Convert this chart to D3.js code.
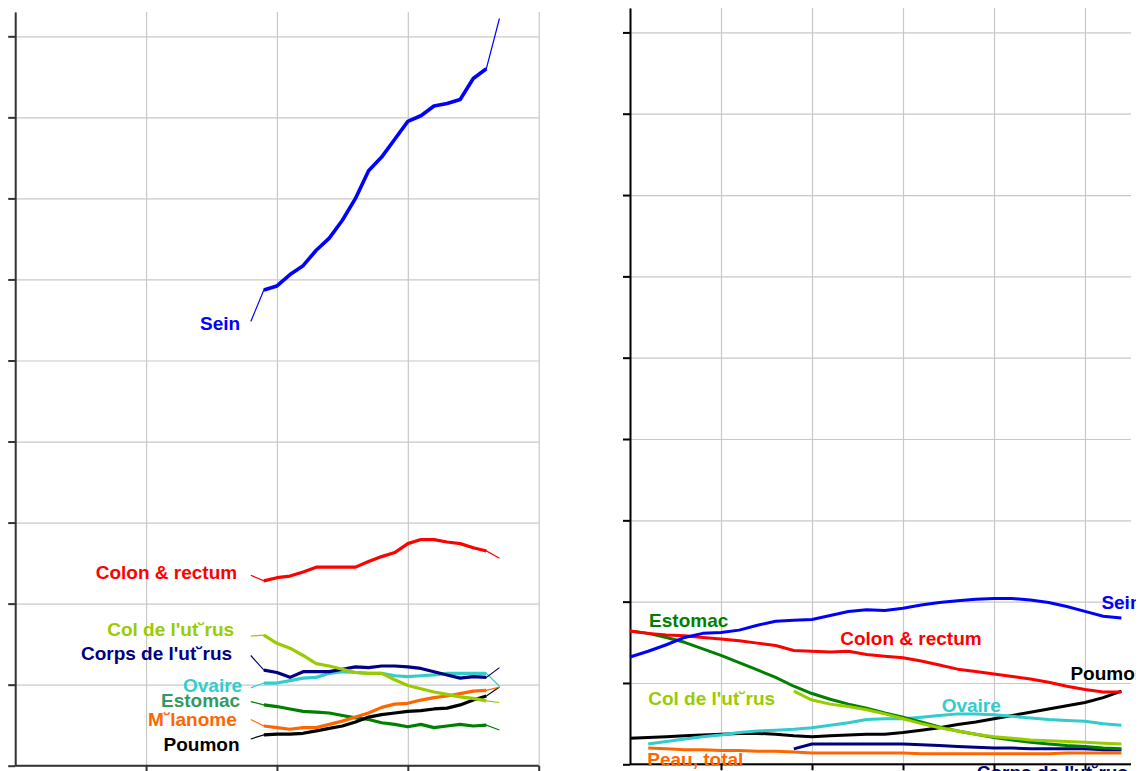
<!DOCTYPE html>
<html><head><meta charset="utf-8">
<script src="https://cdn.jsdelivr.net/npm/d3@7"></script>
<style>html,body{margin:0;padding:0;background:#fff;overflow:hidden}</style>
</head><body>
<script>
// ---------- DATA ----------
// Left panel: incidence, yearly 1978-1997
const leftYears = [1978,1979,1980,1981,1982,1983,1984,1985,1986,1987,1988,1989,1990,1991,1992,1993,1994,1995,1996,1997];
const leftSein     = [54.8,58.7,59.2,60.6,61.7,63.6,65.1,67.3,70.0,73.4,75.1,77.3,79.5,80.2,81.4,81.7,82.2,84.8,86.0,92.2];
const leftColon    = [23.5,22.8,23.2,23.4,23.9,24.5,24.5,24.5,24.5,25.2,25.8,26.3,27.4,27.9,27.9,27.6,27.4,26.9,26.5,25.6];
const leftCol      = [16.0,16.1,15.1,14.5,13.6,12.6,12.3,11.9,11.5,11.4,11.4,10.6,9.9,9.5,9.1,8.8,8.5,8.3,8.0,7.8];
const leftCorps    = [13.6,11.8,11.5,10.9,11.6,11.6,11.6,11.9,12.2,12.1,12.3,12.3,12.2,12.0,11.6,11.2,10.8,11.0,10.9,12.1];
const leftOvaire   = [9.6,10.2,10.2,10.5,10.8,10.9,11.4,11.6,11.5,11.4,11.4,11.1,11.0,11.1,11.2,11.4,11.4,11.4,11.4,9.8];
const leftEstomac  = [7.9,7.5,7.3,7.0,6.7,6.6,6.5,6.2,5.9,5.7,5.3,5.1,4.8,5.1,4.7,4.9,5.1,4.9,5.0,4.4];
const leftMelanome = [5.7,4.9,4.7,4.5,4.7,4.7,5.1,5.5,6.0,6.5,7.2,7.6,7.7,8.1,8.4,8.6,8.9,9.2,9.3,9.7];
const leftPoumon   = [3.3,3.8,3.9,3.9,4.0,4.3,4.6,4.9,5.4,6.0,6.3,6.5,6.7,6.8,7.0,7.1,7.5,8.1,8.6,9.7];

// Right panel: mortality, 1950-2004
const rightYears = [1950,1952,1954,1956,1958,1960,1962,1964,1966,1968,1970,1972,1974,1976,1978,1980,1982,1984,1986,1988,1990,1992,1994,1996,1998,2000,2002,2004];
const rightSein    = [13.2,13.9,14.7,15.6,16.1,16.2,16.5,17.1,17.6,17.7,17.8,18.3,18.8,19.0,18.9,19.2,19.6,19.9,20.1,20.3,20.4,20.4,20.2,19.9,19.4,18.8,18.2,18.0];
const rightColon   = [16.4,16.1,15.9,15.8,15.6,15.4,15.2,14.9,14.6,14.0,13.9,13.8,13.9,13.5,13.3,13.1,12.7,12.2,11.7,11.4,11.1,10.8,10.5,10.1,9.6,9.2,8.9,8.9];
const rightEstomac = [16.4,16.1,15.6,15.0,14.2,13.4,12.5,11.6,10.7,9.6,8.7,8.0,7.4,6.9,6.3,5.8,5.2,4.6,4.1,3.7,3.3,3.0,2.7,2.5,2.3,2.2,2.0,1.9];
const rightCol     = [null,null,null,null,null,null,null,null,null,9.0,7.9,7.4,7.1,6.7,6.2,5.6,5.0,4.5,4.1,3.7,3.4,3.2,3.0,2.9,2.8,2.7,2.6,2.5];
const rightOvaire  = [null,2.5,2.8,3.1,3.4,3.6,3.9,4.1,4.2,4.3,4.5,4.8,5.1,5.5,5.6,5.6,5.8,6.0,6.2,6.2,6.1,5.9,5.7,5.5,5.4,5.3,5.0,4.8];
const rightPoumon  = [3.2,3.3,3.4,3.5,3.6,3.7,3.8,3.8,3.7,3.5,3.4,3.5,3.6,3.7,3.7,3.9,4.2,4.5,4.9,5.2,5.6,6.0,6.4,6.8,7.2,7.6,8.2,9.0];
const rightCorps   = [null,null,null,null,null,null,null,null,null,1.9,2.5,2.5,2.5,2.5,2.5,2.5,2.4,2.3,2.2,2.1,2.0,2.0,1.9,1.9,1.9,1.9,1.8,1.8];
const rightPeau    = [null,2.0,1.9,1.8,1.8,1.7,1.7,1.6,1.6,1.5,1.4,1.4,1.4,1.4,1.4,1.4,1.3,1.3,1.3,1.3,1.3,1.3,1.3,1.3,1.4,1.4,1.4,1.4];

const yTicks = [0,10,20,30,40,50,60,70,80,90];
const leftXTicks = [1960,1970,1980,1990,2000];
const rightXTicks = [1950,1960,1970,1980,1990,2000,2010];

// label names and anchors (data units: year, value)
const leftLabels = [
  {name:"Sein", s:"sein", at:[1977.19,53.8]},
  {name:"Colon & rectum", s:"colon", at:[1976.96,23.05]},
  {name:"Col de l'ut\u02D8rus", s:"col", at:[1976.73,16.0]},
  {name:"Corps de l'ut\u02D8rus", s:"corps", at:[1976.58,13.05]},
  {name:"Ovaire", s:"ovaire", at:[1977.34,9.1]},
  {name:"Estomac", s:"estomacL", at:[1977.19,7.3]},
  {name:"M\u02D8lanome", s:"melanome", at:[1976.93,4.96]},
  {name:"Poumon", s:"poumon", at:[1977.14,1.8]}
];
const rightLabels = [
  {name:"Estomac", s:"estomac", at:[1952.1,16.9]},
  {name:"Colon & rectum", s:"colon", at:[1973.1,14.7]},
  {name:"Col de l'ut\u02D8rus", s:"col", at:[1952.0,7.3]},
  {name:"Peau, total", s:"melanome", at:[1951.9,-0.2]},
  {name:"Ovaire", s:"ovaire", at:[1984.25,6.44]},
  {name:"Poumon", s:"poumon", at:[1998.4,10.4]},
  {name:"Sein", s:"sein", at:[2001.8,19.1]},
  {name:"Corps de l'ut\u02D8rus", s:"corps", at:[1988.1,-1.8]}
];

// ---------- STYLE ----------
const colors = {sein:"#0000ff", colon:"#ff0000", col:"#99cc00", corps:"#000080", ovaire:"#33cccc",
  estomac:"#008000", estomacL:"#339966", melanome:"#ff6600", poumon:"#000000"};

const leftSeries = [
  {s:"estomac", v:leftEstomac},{s:"poumon", v:leftPoumon},{s:"melanome", v:leftMelanome},
  {s:"ovaire", v:leftOvaire},{s:"corps", v:leftCorps},{s:"col", v:leftCol},
  {s:"colon", v:leftColon},{s:"sein", v:leftSein}
];
const rightSeries = [
  {s:"melanome", v:rightPeau},{s:"corps", v:rightCorps},{s:"poumon", v:rightPoumon},
  {s:"ovaire", v:rightOvaire},{s:"estomac", v:rightEstomac},{s:"col", v:rightCol},
  {s:"colon", v:rightColon},{s:"sein", v:rightSein}
];

const svg = d3.select("body").append("svg").attr("width",1136).attr("height",771)
  .style("display","block");

function panel(cfg){
  const g = svg.append("g");
  const x = d3.scaleLinear().domain(cfg.xDomain).range(cfg.xRange);
  const y = d3.scaleLinear().domain([0,93]).range(cfg.yRange);
  const x0 = cfg.xRange[0], x1 = cfg.gridRight, y0 = cfg.yRange[0];
  // grid
  const gy = g.append("g").attr("transform",`translate(${x0},0)`)
    .call(d3.axisLeft(y).tickValues(yTicks).tickSize(-(x1-x0)).tickFormat(""));
  gy.select(".domain").remove();
  gy.selectAll("line").attr("stroke","#c8c8c8").attr("stroke-width",1.2);
  const gx = g.append("g").attr("transform",`translate(0,${y0})`)
    .call(d3.axisBottom(x).tickValues(cfg.xTicks.filter(t=>x(t)<=x1+1)).tickSize(-(y0-y(93))).tickFormat(""));
  gx.select(".domain").remove();
  gx.selectAll("line").attr("stroke","#c8c8c8").attr("stroke-width",1.2);
  // axes
  const ay = g.append("g").attr("transform",`translate(${x0},0)`)
    .call(d3.axisLeft(y).tickValues(yTicks).tickSize(7).tickSizeOuter(0).tickFormat(""));
  ay.selectAll("path,line").attr("stroke",cfg.axisColor).attr("stroke-width",2);
  const ax = g.append("g").attr("transform",`translate(0,${y0})`)
    .call(d3.axisBottom(x).tickValues(cfg.xTicks.filter(t=>x(t)<=x1+1)).tickSize(6).tickSizeOuter(0).tickFormat(""));
  ax.select(".domain").attr("d",`M${x0},0H${x1}`);
  ax.selectAll("path,line").attr("stroke",cfg.axisColor).attr("stroke-width",2);
  ax.selectAll(".tick").filter(d=>d===cfg.xTicks[0]).remove();

  const line = d3.line().defined(d=>d[1]!=null).x(d=>x(d[0])).y(d=>y(d[1]));
  cfg.series.forEach(se=>{
    const pts = cfg.years.map((yr,i)=>[yr,se.v[i]]);
    if (cfg.thinEnds){
      g.append("path").attr("d",line(pts)).attr("fill","none")
        .attr("stroke",colors[se.s]).attr("stroke-width",1.2);
      g.append("path").attr("d",line(pts.slice(1,-1))).attr("fill","none")
        .attr("stroke",colors[se.s]).attr("stroke-width",se.s==="sein"?3.6:3.2)
        .attr("stroke-linejoin","round");
    } else {
      g.append("path").attr("d",line(pts)).attr("fill","none")
        .attr("stroke",colors[se.s]).attr("stroke-width",3)
        .attr("stroke-linejoin","round");
    }
  });
  cfg.labels.forEach(l=>{
    g.append("text").attr("x",x(l.at[0])).attr("y",y(l.at[1]))
      .attr("text-anchor",cfg.anchor)
      .attr("font-family","'Liberation Sans', Arial, sans-serif")
      .attr("font-weight","bold").attr("font-size",19)
      .attr("fill",colors[l.s]).text(l.name);
  });
}

panel({xDomain:[1960,2000], xRange:[15.2,538.7], gridRight:538.7, yRange:[765.7,12],
  xTicks:leftXTicks, years:leftYears, series:leftSeries, labels:leftLabels,
  anchor:"end", thinEnds:true, axisColor:"#333"});
panel({xDomain:[1950,2010], xRange:[630,1176], gridRight:1131, yRange:[764.3,8],
  xTicks:rightXTicks, years:rightYears, series:rightSeries, labels:rightLabels,
  anchor:"start", thinEnds:false, axisColor:"#000"});
</script>
</body></html>
